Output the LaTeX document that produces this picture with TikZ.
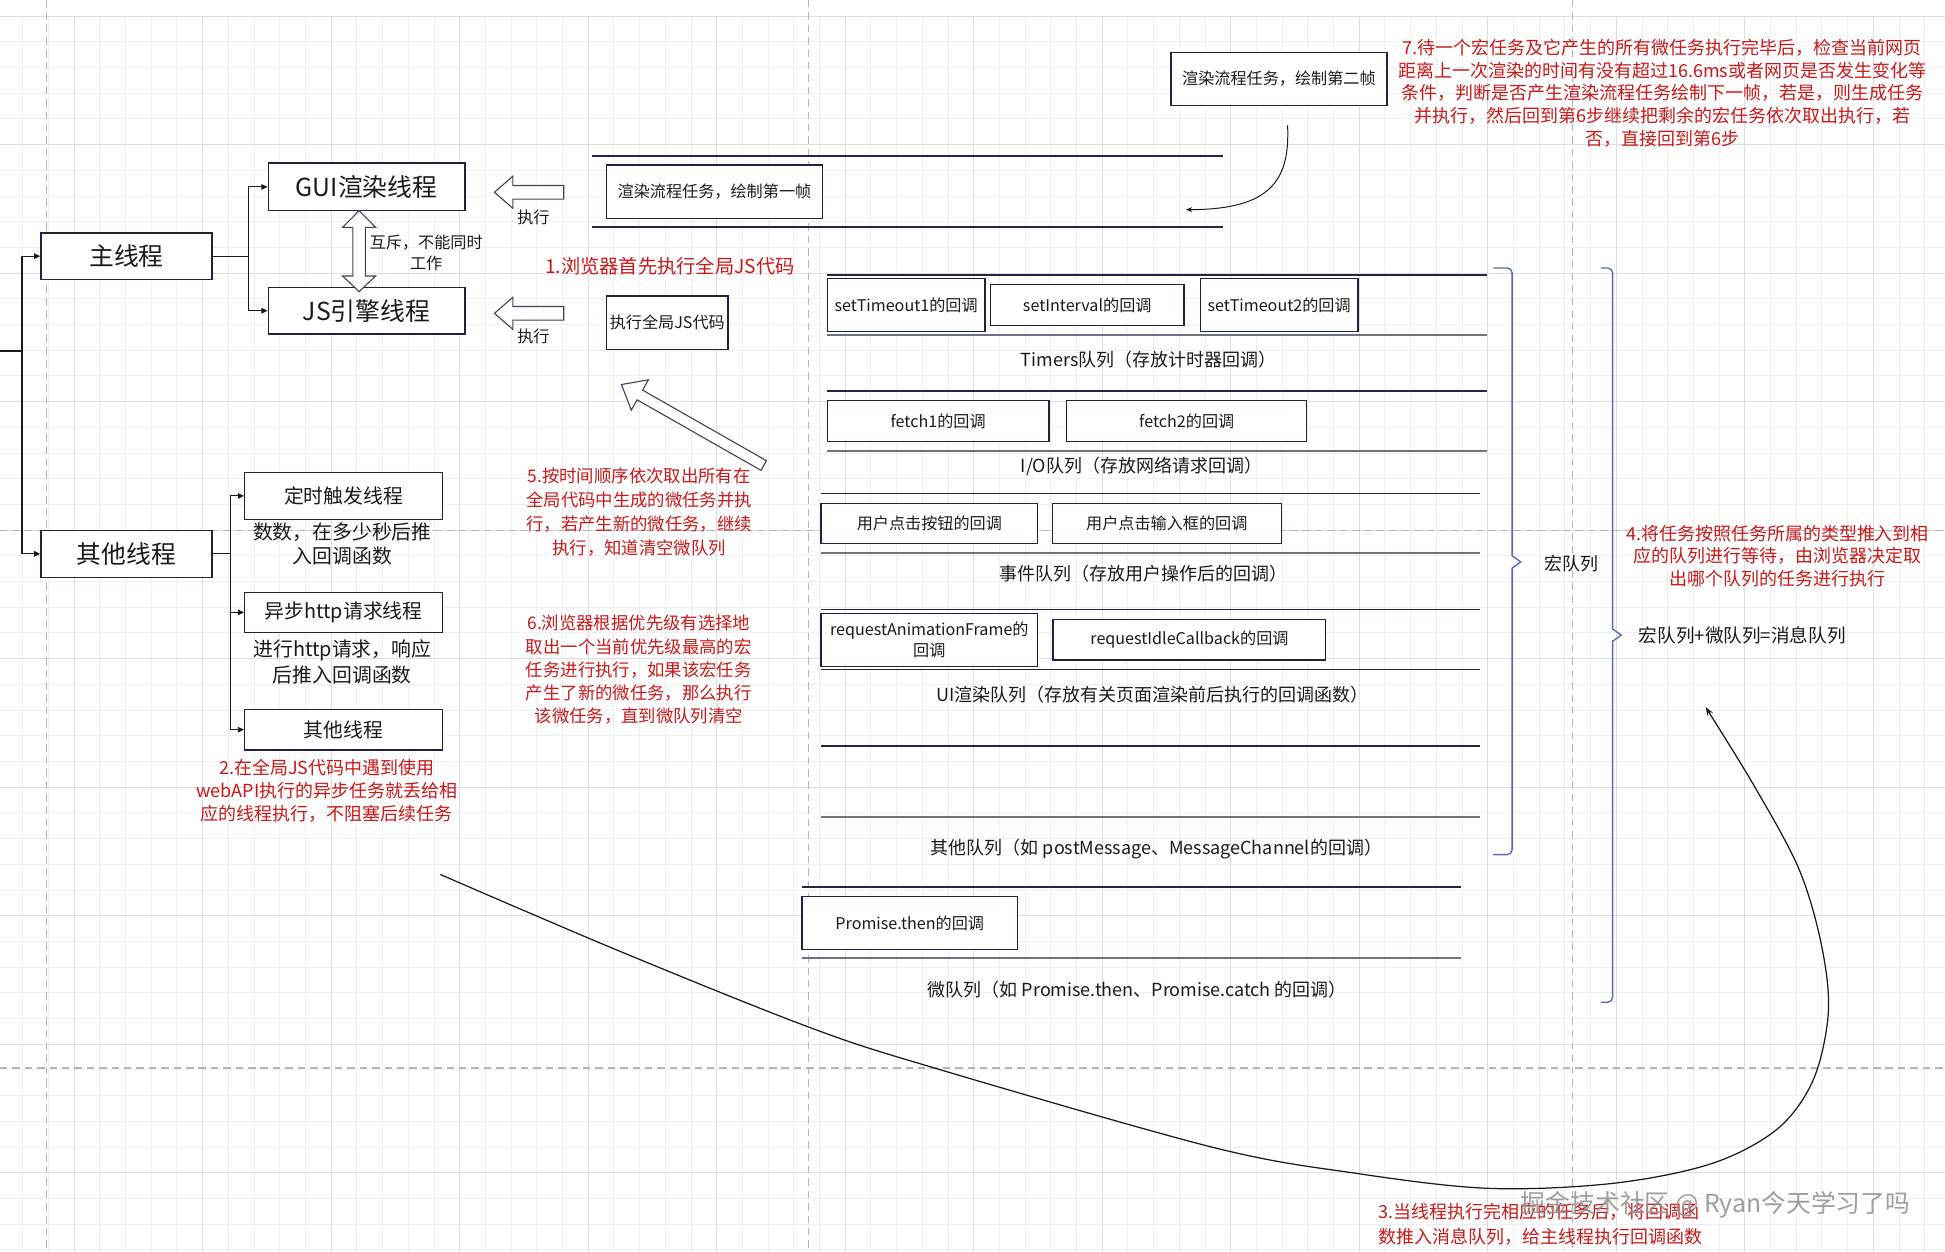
\documentclass[tikz,border=0pt]{standalone}
\usepackage{fontspec}
\setmainfont{Noto Sans CJK SC}
\usetikzlibrary{arrows.meta}
\newcommand{\myfs}[2]{\fontsize{#1pt}{#2pt}\selectfont}
\definecolor{boxc}{HTML}{1F2240}
\definecolor{linec}{HTML}{23264A}
\definecolor{lineg}{HTML}{6E7288}
\definecolor{redc}{HTML}{C81818}
\definecolor{txt}{HTML}{1A1A1A}
\definecolor{bracec}{HTML}{5B68B3}
\definecolor{gridminor}{HTML}{EFEFEF}
\definecolor{gridmajor}{HTML}{DDDDDD}
\definecolor{dashc}{HTML}{B4B4B4}
\begin{document}
\begin{tikzpicture}[x=1pt,y=-1pt,
  box/.style={draw=boxc, line width=1.1pt, fill=white, inner sep=0pt, align=center, text=txt},
  lbl/.style={inner sep=0pt, align=center, text=txt},
  redt/.style={inner sep=0pt, align=center, text=redc},
  conn/.style={draw=txt, line width=0.9pt},
  arr/.style={-{Triangle[length=5pt,width=4.5pt]}},
  qtop/.style={draw=linec, line width=1.3pt},
  qbot/.style={draw=lineg, line width=1.7pt},
  hollow/.style={draw=boxc!85, line width=0.9pt, fill=white, line join=miter},
  brc/.style={draw=bracec, line width=1.1pt, line cap=round},
  gmin/.style={draw=gridminor, line width=0.6pt},
  gmaj/.style={draw=gridmajor, line width=0.8pt},
  pagedash/.style={draw=dashc, line width=0.9pt, dash pattern=on 6pt off 4pt}]
\useasboundingbox (0,0) rectangle (1568,1009);
\fill[white] (0,0) rectangle (1568,1009);
% grid
\foreach \k in {-2,...,72} \draw[gmin] ({59.7+20.72*\k},12.9) -- ({59.7+20.72*\k},1009);
\foreach \k in {0,...,48} \draw[gmin] (0,{12.9+20.72*\k}) -- (1568,{12.9+20.72*\k});
\foreach \k in {0,...,14} \draw[gmaj] ({59.7+103.6*\k},12.9) -- ({59.7+103.6*\k},1009);
\foreach \k in {0,...,9} \draw[gmaj] (0,{12.9+103.6*\k}) -- (1568,{12.9+103.6*\k});
% page break lines
\draw[pagedash] (37.6,0) -- (37.6,1009);
\draw[pagedash] (652,0) -- (652,1009);
\draw[pagedash] (1268,0) -- (1268,1009);
\draw[pagedash] (0,427.5) -- (1568,427.5);
\draw[pagedash] (0,861) -- (1568,861);

% thread boxes
\node[box, minimum width=138pt, minimum height=37.5pt, font=\myfs{20}{24}] (mainT) at (102,206.5) {主线程};
\node[box, minimum width=158.5pt, minimum height=38.5pt, font=\myfs{20}{24}] (gui) at (295.5,150.7) {GUI渲染线程};
\node[box, minimum width=158.5pt, minimum height=37.7pt, font=\myfs{20}{24}] (js) at (295.5,250.5) {JS引擎线程};
\node[box, minimum width=138pt, minimum height=38pt, font=\myfs{20}{24}] (otherT) at (102,446.5) {其他线程};
\node[box, minimum width=159.5pt, minimum height=37.6pt, font=\myfs{16}{20}] (timerT) at (277,399.8) {定时触发线程};
\node[box, minimum width=159.5pt, minimum height=32pt, font=\myfs{16}{20}] (httpT) at (277,493.7) {异步http请求线程};
\node[box, minimum width=159.5pt, minimum height=32.8pt, font=\myfs{16}{20}] (otherS) at (277,588.2) {其他线程};

% connectors left
\coordinate (lx) at (17.7,283);
\draw[conn] (0,283) -- (lx);
\draw[conn,arr] (lx) |- (mainT.west);
\draw[conn,arr] (lx) |- (otherT.west);
\draw[conn,arr] (mainT.east) -- ++(28.5,0) |- (gui.west);
\draw[conn,arr] (mainT.east) -- ++(28.5,0) |- (js.west);
\draw[conn,arr] (otherT.east) -- ++(14.5,0) |- (timerT.west);
\draw[conn,arr] (otherT.east) -- ++(14.5,0) |- (httpT.west);
\draw[conn,arr] (otherT.east) -- ++(14.5,0) |- (otherS.west);

% double hollow arrow between GUI and JS
\draw[hollow] (289.5,169.8) -- (302.8,183.3) -- (294.5,183.3) -- (294.5,222.5) -- (302.8,222.5) -- (289.5,235.1) -- (276.2,222.5) -- (284.5,222.5) -- (284.5,183.3) -- (276.2,183.3) -- cycle;
\node[lbl, font=\myfs{13}{16.5}] (mutex) at (343.6,204) {互斥，不能同时\\工作};

% hollow left arrows
\draw[hollow] (398.6,155) -- (413.5,142) -- (413.5,149.5) -- (454.5,149.5) -- (454.5,160.5) -- (413.5,160.5) -- (413.5,168) -- cycle;
\draw[hollow] (398.6,252.6) -- (413.5,239.6) -- (413.5,247.1) -- (454.5,247.1) -- (454.5,258.1) -- (413.5,258.1) -- (413.5,265.6) -- cycle;
\node[lbl, font=\myfs{13}{16}] (exec1) at (430,175) {执行};
\node[lbl, font=\myfs{13}{16}] (exec2) at (430,271.5) {执行};

% render frame 1 lane
\draw[qtop] (477,126) -- (986,126);
\draw[qtop] (477,183) -- (986,183);
\node[box, minimum width=174pt, minimum height=43pt, font=\myfs{13}{16}] (render1) at (576,154.5) {渲染流程任务，绘制第一帧};
\node[box, minimum width=98pt, minimum height=43pt, font=\myfs{13}{16}] (runjs) at (538,260) {执行全局JS代码};
\node[redt, font=\myfs{15.5}{19}] (t1) at (540,214.5) {1.浏览器首先执行全局JS代码};

% render frame 2
\node[box, minimum width=174pt, minimum height=42.8pt, font=\myfs{13}{16}] (render2) at (1031,63.6) {渲染流程任务，绘制第二帧};
\coordinate (c2a) at (1038,101);
\coordinate (c2b) at (956,169);
\draw[conn, line width=0.8pt, -{Stealth[length=5pt,width=4pt]}] (c2a) .. controls (1040,145) and (1025,169) .. (c2b);

% diagonal hollow arrow
\draw[hollow] (501,310) -- (522.7,306.2) -- (518.0,314.5) -- (617.9,371.4) -- (613.5,379.2) -- (513.6,322.3) -- (508.9,330.6) -- cycle;

% red notes
\node[redt, font=\myfs{14}{19.2}] (t5) at (515.3,413) {5.按时间顺序依次取出所有在\\全局代码中生成的微任务并执\\行，若产生新的微任务，继续\\执行，知道清空微队列};
\node[redt, font=\myfs{14}{18.8}] (t6) at (515,540.1) {6.浏览器根据优先级有选择地\\取出一个当前优先级最高的宏\\任务进行执行，如果该宏任务\\产生了新的微任务，那么执行\\该微任务，直到微队列清空};
\node[redt, font=\myfs{14.5}{18.5}] (t2) at (263.5,637.2) {2.在全局JS代码中遇到使用\\webAPI执行的异步任务就丢给相\\应的线程执行，不阻塞后续任务};
\node[redt, font=\myfs{14.5}{18.3}] (t7) at (1340,75) {7.待一个宏任务及它产生的所有微任务执行完毕后，检查当前网页\\距离上一次渲染的时间有没有超过16.6ms或者网页是否发生变化等\\条件，判断是否产生渲染流程任务绘制下一帧，若是，则生成任务\\并执行，然后回到第6步继续把剩余的宏任务依次取出执行，若\\否，直接回到第6步};
\node[redt, font=\myfs{14.5}{18.1}] (t4) at (1433,448.3) {4.将任务按照任务所属的类型推入到相\\应的队列进行等待，由浏览器决定取\\出哪个队列的任务进行执行};

% thread side notes
\node[lbl, font=\myfs{16}{19.6}] (n1) at (276,438.4) {数数，在多少秒后推\\入回调函数};
\node[lbl, font=\myfs{16}{21}] (n2) at (276,533.5) {进行http请求，响应\\后推入回调函数};

% queues
\draw[qtop] (667,221.7) -- (1199,221.7);
\draw[qbot] (667,270) -- (1199,270);
\node[box, minimum width=127pt, minimum height=43pt, font=\myfs{13}{16}] (st1) at (730.5,245.9) {setTimeout1的回调};
\node[box, minimum width=156pt, minimum height=33pt, font=\myfs{13}{16}] (si) at (876.5,245.8) {setInterval的回调};
\node[box, minimum width=127pt, minimum height=43pt, font=\myfs{13}{16}] (st2) at (1031.2,245.9) {setTimeout2的回调};
\node[lbl, font=\myfs{14.5}{18}] (qtimers) at (926,290.2) {Timers队列（存放计时器回调）};

\draw[qtop] (667,315.2) -- (1199,315.2);
\draw[qbot] (667,363.6) -- (1199,363.6);
\node[box, minimum width=178.6pt, minimum height=33pt, font=\myfs{13}{16}] (f1) at (756.3,339.5) {fetch1的回调};
\node[box, minimum width=193.4pt, minimum height=33pt, font=\myfs{13}{16}] (f2) at (956.7,339.5) {fetch2的回调};
\node[lbl, font=\myfs{14.5}{18}] (qio) at (920.2,376.2) {I/O队列（存放网络请求回调）};

\draw[qtop] (662,397.7) -- (1193,397.7);
\draw[qbot] (662,446) -- (1193,446);
\node[box, minimum width=174.4pt, minimum height=32.2pt, font=\myfs{13}{16}] (cb) at (749.2,421.9) {用户点击按钮的回调};
\node[box, minimum width=184.7pt, minimum height=32.2pt, font=\myfs{13}{16}] (ci) at (940.6,421.9) {用户点击输入框的回调};
\node[lbl, font=\myfs{14.5}{18}] (qevent) at (921.8,462.2) {事件队列（存放用户操作后的回调）};

\draw[qtop] (662,491.2) -- (1193,491.2);
\draw[qtop] (662,539.6) -- (1193,539.6);
\node[box, minimum width=174.4pt, minimum height=43pt, font=\myfs{13}{16.5}] (raf) at (749.2,515.9) {requestAnimationFrame的\\回调};
\node[box, minimum width=219.8pt, minimum height=32.7pt, font=\myfs{13}{16}] (ric) at (958.9,515.7) {requestIdleCallback的回调};
\node[lbl, font=\myfs{14.5}{18}] (qui) at (929.2,560.3) {UI渲染队列（存放有关页面渲染前后执行的回调函数）};

\draw[qtop] (662,601.4) -- (1193,601.4);
\draw[qbot] (662,658.3) -- (1193,658.3);
\node[lbl, font=\myfs{14.5}{18}] (qother) at (932.3,684.4) {其他队列（如 postMessage、MessageChannel的回调）};

\draw[qtop] (646.5,715.3) -- (1177.5,715.3);
\draw[qbot] (646.5,772) -- (1177.5,772);
\node[box, minimum width=173.8pt, minimum height=42.5pt, font=\myfs{13}{16}] (prom) at (733.4,744) {Promise.then的回调};
\node[lbl, font=\myfs{14.5}{18}] (qmicro) at (916.9,797.5) {微队列（如 Promise.then、Promise.catch 的回调）};

% braces
\draw[brc, rounded corners=4pt] (1204,216) -- (1219,216) -- (1219,448);
\draw[brc] (1219,448) -- (1226,453) -- (1219,458);
\draw[brc, rounded corners=4pt] (1219,458) -- (1219,689) -- (1204,689);
\node[lbl, font=\myfs{14.5}{18}] (macroq) at (1267,454) {宏队列};
\draw[brc, rounded corners=4pt] (1291,216) -- (1300,216) -- (1300,507);
\draw[brc] (1300,507) -- (1307,512) -- (1300,517);
\draw[brc, rounded corners=4pt] (1300,517) -- (1300,808) -- (1291,808);
\node[lbl, font=\myfs{15}{18}] (msgq) at (1404.6,511.9) {宏队列+微队列=消息队列};

% big return curve
\coordinate (bcs) at (355,705);
\coordinate (bce) at (1375,570);
\draw[conn, line width=1pt, -{Stealth[length=7pt,width=5pt]}] plot[smooth, tension=0.55] coordinates {(bcs) (500,767) (652,828) (750,860) (978,925) (1094,946) (1200,958) (1300,954) (1380,938) (1433,910) (1462,870) (1474,815) (1468,760) (1450,700) (1415,635) (bce)};

% note 3 and watermark
\node[redt, anchor=west, align=left, font=\myfs{14.5}{20.6}] (t3) at (1111,987) {3.当线程执行完相应的任务后，将回调函\\数推入消息队列，给主线程执行回调函数};
\node[inner sep=0pt, text=gray!85, text opacity=0.9, font=\myfs{20}{24}] (wm) at (1383,971) {掘金技术社区 @ Ryan今天学习了吗};
\end{tikzpicture}
\end{document}
